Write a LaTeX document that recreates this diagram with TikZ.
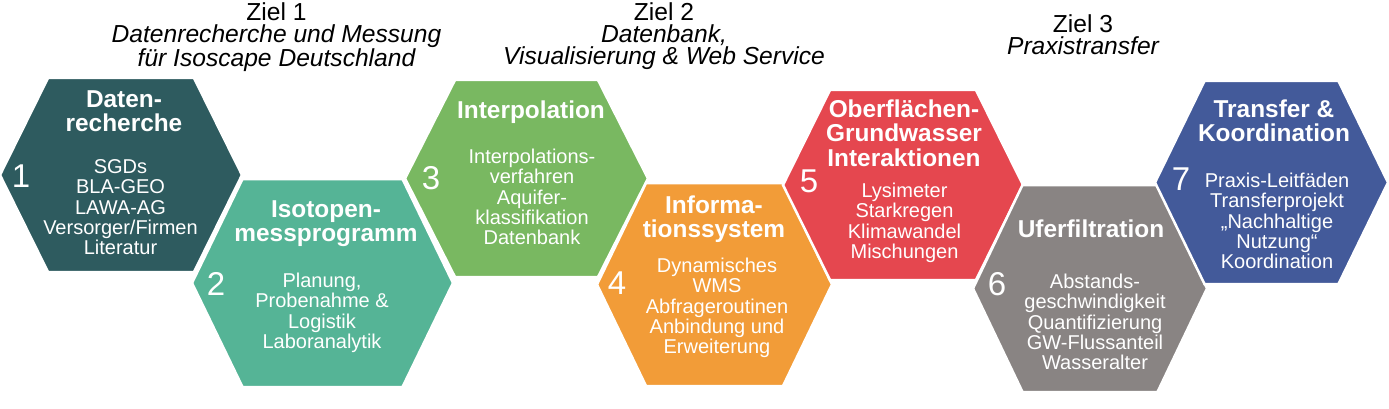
\documentclass[tikz,border=0pt]{standalone}
\usepackage{fontspec}
\setmainfont{Liberation Sans}
\definecolor{hexA}{RGB}{46,91,95}
\definecolor{hexB}{RGB}{85,180,150}
\definecolor{hexC}{RGB}{121,184,97}
\definecolor{hexD}{RGB}{242,156,56}
\definecolor{hexE}{RGB}{229,71,79}
\definecolor{hexF}{RGB}{137,132,131}
\definecolor{hexG}{RGB}{67,90,154}
\newcommand\hexshape[6]{%
  \fill[#6, draw=white, line width=2.5pt] (#1-#3,#2) -- (#1-#5,#2-#4) -- (#1+#5,#2-#4) -- (#1+#3,#2) -- (#1+#5,#2+#4) -- (#1-#5,#2+#4) -- cycle;}
\newcommand\tstrut{\rule{0pt}{19pt}}
\newcommand\bstrut{\rule{0pt}{16pt}}
\begin{document}
\begin{tikzpicture}[x=1pt,y=-1pt,
  hextitle/.style={font=\bfseries\fontsize{24.4}{24.5}\selectfont, text=white, align=center, inner sep=0pt, anchor=north},
  hexbody/.style={font=\fontsize{20}{20.4}\selectfont, text=white, align=center, inner sep=0pt, anchor=north},
  hexnum/.style={font=\fontsize{33}{33}\selectfont, text=white, inner sep=0pt, anchor=base},
  goal/.style={font=\fontsize{24.6}{22}\selectfont, text=black, align=center, inner sep=0pt, anchor=north}]
\useasboundingbox (0,0) rectangle (1389,409);
\fill[white] (0,0) rectangle (1389,409);

% hexagons
\hexshape{121}{175}{121}{97}{73}{hexA}
\hexshape{322.5}{283}{130.5}{104}{80}{hexB}
\hexshape{526.5}{178.5}{121.5}{98.5}{71.5}{hexC}
\hexshape{714.5}{284.5}{117.5}{101.5}{68.5}{hexD}
\hexshape{903}{185}{120}{95}{73}{hexE}
\hexshape{1090}{288.5}{117}{103.5}{67.5}{hexF}
\hexshape{1271.5}{182.5}{116.5}{101.5}{67}{hexG}

% goal headings
\node[goal] (g1) at (276.5,1) {\tstrut Ziel 1\\\itshape Datenrecherche und Messung\\\itshape für Isoscape Deutschland};
\node[goal] (g2) at (664,1) {\tstrut Ziel 2\\\itshape Datenbank,\\\itshape Visualisierung \& Web Service};
\node[goal] (g3) at (1083,13) {\tstrut Ziel 3\\\itshape Praxistransfer};

% hex 1
\node[hextitle] (t1) at (124,88) {\tstrut Daten-\\recherche};
\node[hexbody] (b1) at (120.5,157) {\bstrut SGDs\\BLA-GEO\\LAWA-AG\\Versorger/Firmen\\Literatur};
\node[hexnum] (n1) at (21,187) {1};
% hex 2
\node[hextitle] (t2) at (326,198) {\tstrut Isotopen-\\messprogramm};
\node[hexbody] (b2) at (322,271) {\bstrut Planung,\\Probenahme \&\\Logistik\\Laboranalytik};
\node[hexnum] (n2) at (216,295) {2};
% hex 3
\node[hextitle] (t3) at (531,99) {\tstrut Interpolation};
\node[hexbody] (b3) at (532,147) {\bstrut Interpolations-\\verfahren\\Aquifer-\\klassifikation\\Datenbank};
\node[hexnum] (n3) at (431,189) {3};
% hex 4
\node[hextitle] (t4) at (714,194) {\tstrut Informa-\\tionssystem};
\node[hexbody] (b4) at (717,256) {\bstrut Dynamisches\\WMS\\Abfrageroutinen\\Anbindung und\\Erweiterung};
\node[hexnum] (n4) at (617,294) {4};
% hex 5
\node[hextitle] (t5) at (904,98) {\tstrut Oberflächen-\\Grundwasser\\Interaktionen};
\node[hexbody] (b5) at (904.5,181) {\bstrut Lysimeter\\Starkregen\\Klimawandel\\Mischungen};
\node[hexnum] (n5) at (809,192) {5};
% hex 6
\node[hextitle] (t6) at (1091,218) {\tstrut Uferfiltration};
\node[hexbody] (b6) at (1095,272) {\bstrut Abstands-\\geschwindigkeit\\Quantifizierung\\GW-Flussanteil\\Wasseralter};
\node[hexnum] (n6) at (997,295) {6};
% hex 7
\node[hextitle] (t7) at (1274,98) {\tstrut Transfer \&\\Koordination};
\node[hexbody] (b7) at (1277,171) {\bstrut Praxis-Leitfäden\\Transferprojekt\\„Nachhaltige\\Nutzung“\\Koordination};
\node[hexnum] (n7) at (1181,190) {7};
\end{tikzpicture}
\end{document}
